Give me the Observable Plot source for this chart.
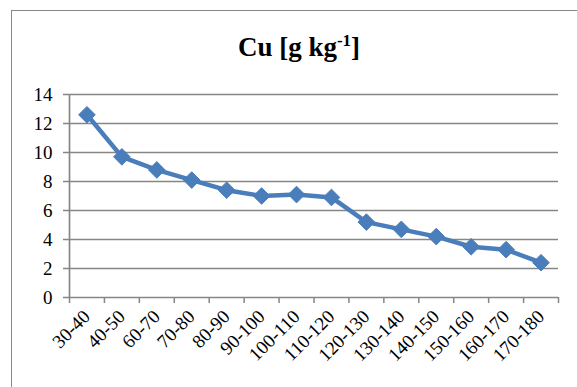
<!DOCTYPE html>
<html>
<head>
<meta charset="utf-8">
<script src="https://cdn.jsdelivr.net/npm/d3@7"></script>
<script src="https://cdn.jsdelivr.net/npm/@observablehq/plot@0.6"></script>
<style>
  html, body { margin: 0; padding: 0; background: #fff; }
  #chart { position: relative; width: 577px; height: 387px; overflow: hidden; font-family: "Times New Roman", "Liberation Serif", serif; }
  #frame { position: absolute; left: 11px; top: 10px; width: 600px; height: 400px; border-left: 1.7px solid #888; border-top: 1.7px solid #888; box-sizing: border-box; }
  #title { position: relative; height: 70px; box-sizing: border-box; padding-top: 35px; margin-left: 11px; width: 576px; text-align: center; font-family: "Times New Roman", "Liberation Serif", serif; font-weight: bold; font-size: 27px; line-height: 24px; color: #000; }
  #title .sup { font-size: 17px; position: relative; top: -10px; }
  #plot svg { display: block; }
  #plot svg text { font-family: "Times New Roman", "Liberation Serif", serif; }
</style>
</head>
<body>
<div id="chart">
  <div id="frame"></div>
  <div id="title">Cu [g kg<span class="sup">-1</span>]</div>
  <div id="plot"></div>
</div>
<script>
// Depth intervals (cm) and copper content per interval
const categories = ["30-40", "40-50", "60-70", "70-80", "80-90", "90-100", "100-110",
  "110-120", "120-130", "130-140", "140-150", "150-160", "160-170", "170-180"];
const values = [12.6, 9.7, 8.8, 8.1, 7.4, 7.0, 7.1, 6.9, 5.2, 4.7, 4.2, 3.5, 3.3, 2.4];
const yTicks = [0, 2, 4, 6, 8, 10, 12, 14];

// Each category occupies one unit on the x scale; points sit at the unit centres
const rows = categories.map((c, i) => ({pos: i + 0.5, cat: c, v: values[i]}));
const boundaries = d3.range(categories.length + 1);

const grid = "#868686";
const blue = "#4A7EBB";

const chart = Plot.plot({
  width: 577,
  height: 317,
  marginTop: 24,
  marginBottom: 90,
  marginLeft: 69,
  marginRight: 19,
  style: {fontFamily: "'Times New Roman', 'Liberation Serif', serif", fontSize: "19px", color: "#000", background: "transparent"},
  x: {domain: [0, categories.length]},
  y: {domain: [0, 14]},
  marks: [
    Plot.ruleY(yTicks.filter(d => d > 0), {stroke: grid, strokeWidth: 1.7}),
    Plot.ruleY([0], {stroke: grid, strokeWidth: 1.7}),
    Plot.ruleX([0], {stroke: grid, strokeWidth: 1.7}),
    Plot.axisY({ticks: yTicks, tickSize: 6, tickPadding: 11, stroke: grid, strokeWidth: 1.5, fill: "#000", fontSize: 19, label: null}),
    Plot.axisX({ticks: boundaries, tickFormat: () => "", tickSize: 6, stroke: grid, strokeWidth: 1.5, label: null}),
    Plot.axisX({ticks: rows.map(d => d.pos), tickFormat: d => categories[Math.floor(d)], tickSize: 0, tickPadding: 16, tickRotate: -45, fill: "#000", fontSize: 19, label: null}),
    Plot.line(rows, {x: "pos", y: "v", stroke: blue, strokeWidth: 4.5}),
    Plot.dot(rows, {x: "pos", y: "v", symbol: "diamond2", r: 7.5, fill: blue, stroke: blue, strokeWidth: 1})
  ]
});
document.getElementById("plot").append(chart);
</script>
</body>
</html>
